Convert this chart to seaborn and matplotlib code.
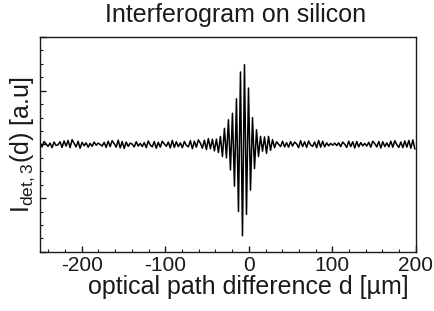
import numpy as np
import pandas as pd
import matplotlib
matplotlib.use("Agg")
import matplotlib.pyplot as plt
import seaborn as sns
from matplotlib.ticker import MultipleLocator, NullFormatter

# sampling of the optical path difference axis
d_start = -250.0
d_step = 2.4

noise_left = [
    0.06, -0.09, 0.11, 0.02, -0.07, 0.05, -0.12, 0.09, -0.04, -0.01, 0.10, -0.11,
    0.13, -0.06, 0.15, -0.12, 0.18, 0.04, -0.09, 0.12, -0.14, 0.08, -0.05, 0.06,
    -0.10, 0.04, -0.07, 0.09, -0.03, 0.05, 0.00, -0.06, 0.08, -0.11, 0.12, -0.08,
    0.14, 0.03, -0.10, 0.16, -0.13, 0.11, -0.15, 0.09, -0.07, 0.05, 0.01, -0.09,
    0.10, -0.06, 0.04, -0.08, 0.07, -0.12, 0.13, -0.02, -0.09, 0.11, -0.14, 0.08,
    -0.10, 0.12, 0.02, -0.07, 0.09, -0.13, 0.15, -0.11, 0.10, -0.08, 0.06, -0.12,
    0.11, -0.03, -0.09, 0.14, -0.16, 0.12, -0.10, 0.17, 0.05, -0.14, 0.16, -0.19,
    0.22, -0.16, 0.19, -0.24,
]
burst = [
    0.20, -0.30, 0.30, -0.45, 0.60, -0.50, 0.92, -0.95, 1.16, -1.55, 1.70, -2.50,
    2.70, -3.40, 2.97, -2.60, 2.10, -1.70, 1.00, -0.90, 0.55, -0.45, 0.30, -0.25,
]
noise_right = [
    0.28, -0.33, 0.30, -0.22, 0.18, -0.12, 0.10, 0.01, -0.08, 0.12, -0.09, 0.07,
    -0.10, 0.11, -0.06, 0.09, 0.02, -0.12, 0.14, -0.08, 0.10, -0.11, 0.13, -0.02,
    -0.07, 0.09, -0.12, 0.15, -0.10, 0.12, -0.09, 0.06, -0.05, 0.04, -0.03, 0.05,
    -0.04, 0.06, -0.08, 0.09, 0.01, -0.11, 0.12, -0.08, 0.10, -0.13, 0.11, -0.09,
    0.07, -0.05, 0.04, -0.06, 0.08, -0.10, 0.12, 0.03, -0.09, 0.11, -0.13, 0.10,
    -0.08, 0.06, -0.09, 0.12, -0.10, 0.14, -0.01, -0.11, 0.09, -0.12, 0.13, -0.10,
    0.15, -0.14, 0.17, -0.17,
]

signal = noise_left + burst + noise_right
d = d_start + d_step * np.arange(len(signal))
df = pd.DataFrame({"d": d, "I": signal})

sns.set_theme(style="ticks")
plt.rcParams["font.family"] = ["Liberation Sans", "DejaVu Sans"]
plt.rcParams["mathtext.fontset"] = "custom"
plt.rcParams["mathtext.rm"] = "Liberation Sans"
plt.rcParams["axes.unicode_minus"] = False

ink = "#1a1a1a"
fig = plt.figure(figsize=(4.35, 3.11), dpi=100)
ax = fig.add_axes([0.092, 0.19, 0.864, 0.691])
sns.lineplot(data=df, x="d", y="I", ax=ax, color="black", linewidth=1.1)

ax.set_xlim(-250, 200)
ax.set_ylim(-4, 4)
ax.xaxis.set_major_locator(MultipleLocator(100))
ax.xaxis.set_minor_locator(MultipleLocator(20))
ax.yaxis.set_major_locator(MultipleLocator(2))
ax.yaxis.set_minor_locator(MultipleLocator(0.5))
ax.yaxis.set_major_formatter(NullFormatter())
ax.tick_params(which="both", direction="in", top=False, right=False, colors=ink)
ax.tick_params(which="major", length=4, width=1, labelsize=15, pad=3)
ax.tick_params(which="minor", length=2.5, width=0.8)
for s in ax.spines.values():
    s.set_linewidth(1.0)
    s.set_color(ink)

ax.set_title("Interferogram on silicon", fontsize=18, pad=11, color=ink, x=0.52)
ax.set_xlabel("optical path difference d [µm]", fontsize=18, labelpad=0, color=ink)
ax.xaxis.label.set_x(0.555)
ax.set_ylabel(r"I$_{\mathregular{det,3}}$(d) [a.u]", fontsize=18, labelpad=-1, color=ink)

fig.savefig("out.png", dpi=100)
